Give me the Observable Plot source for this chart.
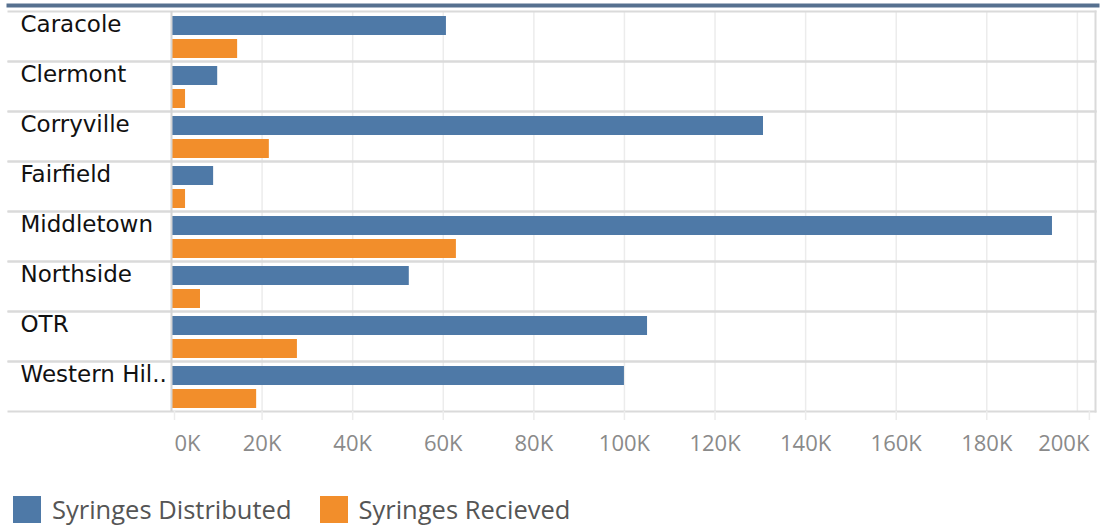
<!DOCTYPE html>
<html>
<head>
<meta charset="utf-8">
<script src="https://cdn.jsdelivr.net/npm/d3@7"></script>
<script src="https://cdn.jsdelivr.net/npm/@observablehq/plot@0.6"></script>
<style>
  body { margin: 0; background: #fff; }
  #chart svg { display: block; }
  .legend { display: flex; align-items: center; margin-top: 22px; padding-left: 13px; font-family: "Open Sans", sans-serif; font-size: 25.5px; color: #555; }
  .legend .item { display: flex; align-items: center; margin-right: 28px; }
  .legend .sw { width: 28px; height: 27px; margin-right: 11px; }
</style>
</head>
<body>
<div id="chart"></div>
<script>
const categories = ["Caracole", "Clermont", "Corryville", "Fairfield", "Middletown", "Northside", "OTR", "Western Hil.."];
const distributed = [60700, 10200, 130700, 9300, 194500, 52500, 105100, 100000];
const received = [14600, 3100, 21600, 3100, 62900, 6400, 27800, 18800];
const seriesNames = ["Syringes Distributed", "Syringes Recieved"];
const seriesColors = ["#4e79a7", "#f28e2b"];
const xTicks = [0, 20000, 40000, 60000, 80000, 100000, 120000, 140000, 160000, 180000, 200000];

const data = categories.flatMap((c, i) => [
  {category: c, series: seriesNames[0], value: distributed[i]},
  {category: c, series: seriesNames[1], value: received[i]}
]);

const fmt = d => (d / 1000) + "K";
const axisStyle = {tickSize: 9, tickPadding: 15, stroke: "#ececec", strokeWidth: 1.5, fontSize: 22, fontFamily: "Open Sans", fill: "#8a8a8a", tickFormat: fmt, label: null};

const chart = Plot.plot({
  width: 1107,
  height: 470,
  marginLeft: 171,
  marginRight: 12,
  marginTop: 8,
  marginBottom: 57,
  x: {domain: [0, 204000], axis: null},
  y: {domain: seriesNames, paddingInner: 0.19, paddingOuter: 0.148, align: 0.65, axis: null},
  fy: {domain: categories, padding: 0, axis: null},
  color: {domain: seriesNames, range: seriesColors},
  marks: [
    Plot.ruleX(xTicks, {x: d => d, stroke: "#ececec", strokeWidth: 1.5}),
    Plot.barX(data, {fy: "category", y: "series", x: "value", fill: "series"}),
    Plot.frame({anchor: "top", stroke: "#dadada", strokeWidth: 2, insetLeft: -163}),
    Plot.frame({anchor: "bottom", stroke: "#dadada", strokeWidth: 2, insetLeft: -163}),
    Plot.ruleX([0], {x: d => d, stroke: "#d4d4d4", strokeWidth: 2}),
    Plot.frame({anchor: "right", facet: "super", stroke: "#dadada", strokeWidth: 2}),
    Plot.frame({anchor: "top", facet: "super", stroke: "#56708f", strokeWidth: 4, dy: -6, insetLeft: -163, insetRight: -2}),
    Plot.text(categories, {fy: d => d, text: d => d, frameAnchor: "top-left", textAnchor: "start", lineAnchor: "top", dx: -151, dy: 4, fontSize: 23, fontFamily: "DejaVu Sans", fill: "#111"}),
    Plot.axisX([xTicks[0]], {...axisStyle, textAnchor: "start", dx: 3}),
    Plot.axisX(xTicks.slice(1, -1), axisStyle),
    Plot.axisX([xTicks[xTicks.length - 1]], {...axisStyle, textAnchor: "end", dx: 12})
  ]
});
document.getElementById("chart").appendChild(chart);

const legend = document.createElement("div");
legend.className = "legend";
seriesNames.forEach((name, i) => {
  const item = document.createElement("div");
  item.className = "item";
  const sw = document.createElement("div");
  sw.className = "sw";
  sw.style.background = seriesColors[i];
  const label = document.createElement("span");
  label.textContent = name;
  item.appendChild(sw);
  item.appendChild(label);
  legend.appendChild(item);
});
document.body.appendChild(legend);
</script>
</body>
</html>
